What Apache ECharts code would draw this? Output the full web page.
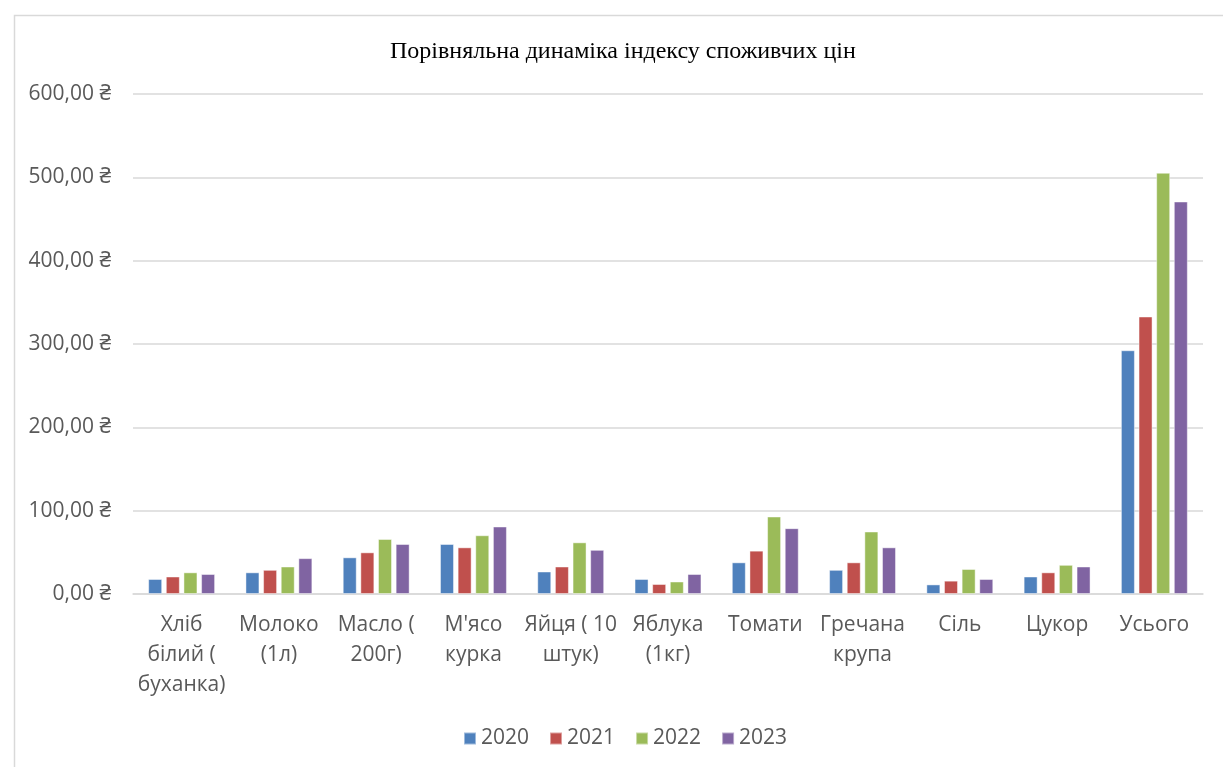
<!DOCTYPE html>
<html>
<head>
<meta charset="utf-8">
<script src="https://cdn.jsdelivr.net/npm/echarts@6/dist/echarts.min.js"></script>
<style>
html,body{margin:0;padding:0;background:#fff;}
#c{width:1223px;height:767px;}
</style>
</head>
<body>
<div id="c"></div>
<script>
const categories = [
  'Хліб\nбілий (\nбуханка)', 'Молоко\n(1л)', 'Масло (\n200г)', "М'ясо\nкурка",
  'Яйця ( 10\nштук)', 'Яблука\n(1кг)', 'Томати', 'Гречана\nкрупа', 'Сіль', 'Цукор', 'Усього'
];
const years = ['2020', '2021', '2022', '2023'];
const values2020 = [18, 26, 44, 60, 27, 18, 38, 29, 11.5, 21, 292.5];
const values2021 = [21, 29, 50, 56, 33, 12, 52, 38, 16, 26, 333];
const values2022 = [26, 33, 66, 70.5, 62, 15, 93, 75, 30, 35, 505.5];
const values2023 = [24, 43, 60, 81, 53, 24, 79, 56, 18, 33, 471];
const yTicks = { min: 0, max: 600, interval: 100 };
const colors = ['#4F81BD', '#C0504D', '#9BBB59', '#8064A2'];

const seriesData = [values2020, values2021, values2022, values2023];
const chart = echarts.init(document.getElementById('c'), null, { renderer: 'canvas' });
const font = '"Open Sans", "Noto Sans", sans-serif';
chart.setOption({
  animation: false,
  backgroundColor: '#fff',
  graphic: [{
    type: 'rect', left: 12, top: 13, z: -1,
    shape: { width: 1240, height: 780 },
    style: { fill: 'none', stroke: '#D9D9D9', lineWidth: 1.5 }
  }],
  title: {
    text: 'Порівняльна динаміка індексу споживчих цін',
    left: 385, top: 35,
    textStyle: { fontFamily: '"Liberation Serif", serif', fontSize: 24, fontWeight: 'normal', color: '#000' }
  },
  legend: {
    data: years, bottom: 13, left: 458,
    itemWidth: 12, itemHeight: 12, itemGap: 20,
    icon: 'rect',
    textStyle: { fontFamily: font, fontSize: 21, color: '#595959' }
  },
  grid: { left: 133, right: 20, top: 94, bottom: 173, containLabel: false },
  xAxis: {
    type: 'category', data: categories,
    axisLine: { show: true, lineStyle: { color: '#D9D9D9', width: 1.5 } },
    axisTick: { show: false },
    axisLabel: { fontFamily: font, fontSize: 21, color: '#595959', lineHeight: 30, margin: 16, interval: 0 }
  },
  yAxis: {
    type: 'value', min: yTicks.min, max: yTicks.max, interval: yTicks.interval,
    axisLine: { show: false }, axisTick: { show: false },
    splitLine: { lineStyle: { color: '#D9D9D9', width: 1.5 } },
    axisLabel: {
      fontFamily: font, fontSize: 21, color: '#595959', margin: 22,
      formatter: v => v.toFixed(2).replace('.', ',') + ' ₴'
    }
  },
  series: years.map((y, i) => ({
    name: y, type: 'bar', data: seriesData[i],
    barWidth: 14, barGap: '26%',
    itemStyle: { color: colors[i], borderColor: 'rgba(255,255,255,0.45)', borderWidth: 1 }
  }))
});
</script>
</body>
</html>
